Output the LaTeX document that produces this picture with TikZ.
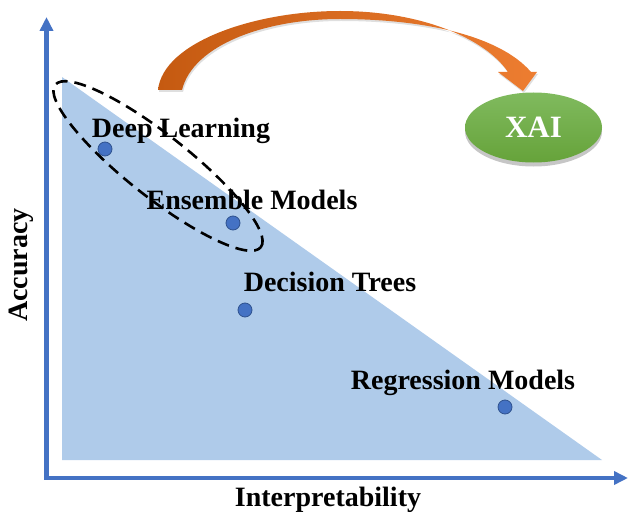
\documentclass[tikz,border=0pt]{standalone}
\usepackage{fontspec}
\setmainfont{Liberation Serif}
\usetikzlibrary{arrows.meta,shapes.geometric,shadows}
\definecolor{axisblue}{HTML}{4472C4}
\definecolor{areablue}{HTML}{AFCBEA}
\definecolor{dotblue}{HTML}{4472C4}
\definecolor{dotedge}{HTML}{2F528F}
\definecolor{orDark}{HTML}{C55A11}
\definecolor{orLight}{HTML}{F8D9C4}
\definecolor{orMid}{HTML}{ED7D31}
\definecolor{gTop}{HTML}{80BA5E}
\definecolor{gBot}{HTML}{66A33A}
\begin{document}
\begin{tikzpicture}[x=1pt,y=-1pt,
  axis/.style={draw=axisblue,line width=4.5pt,line join=miter,
    {Triangle[width=13pt,length=14pt]}-{Triangle[width=13pt,length=14pt]}},
  dot/.style={circle,fill=dotblue,draw=dotedge,line width=0.8pt,minimum size=14pt,inner sep=0pt},
  lbl/.style={font=\fontsize{28}{32}\selectfont\bfseries,inner sep=0pt},
  ring/.style={draw=black,line width=2.6pt,dash pattern=on 12pt off 7pt},
  xai/.style={ellipse,minimum width=137pt,minimum height=70pt,inner sep=0pt,
    top color=gTop,bottom color=gBot,
    drop shadow={opacity=0.45,shadow xshift=0pt,shadow yshift=-4pt},
    font=\fontsize{31}{34}\selectfont\bfseries,text=white}]
\useasboundingbox (0,0) rectangle (628,513);

% axes
\coordinate (ytip) at (46.5,17);
\coordinate (corner) at (46.5,478);
\coordinate (xtip) at (628,478);
\path[axis] (ytip) -- (corner) -- (xtip);

% triangle area
\fill[areablue] (62,77) -- (62,460) -- (602,460) -- cycle;

% dashed ring
\draw[ring,rotate around={-38.3:(158,166)}] (158,166) ellipse [x radius=131pt, y radius=31pt];

% dots
\node[dot] (d1) at (105,149) {};
\node[dot] (d2) at (233,223) {};
\node[dot] (d3) at (245,310) {};
\node[dot] (d4) at (505,407) {};

% labels
\node[lbl] (l1) at (181,131) {Deep Learning};
\node[lbl] (l2) at (252,200) {Ensemble Models};
\node[lbl] (l3) at (330,282) {Decision Trees};
\node[lbl] (l4) at (463,383) {Regression Models};
\node[lbl,rotate=90] (ay) at (21,265) {Accuracy};
\node[lbl] (ax) at (328,500) {Interpretability};

% XAI
\node[xai] (x) at (533.5,127.5) {XAI};

% curved arrow
\path[left color=orDark,middle color=orLight,right color=orMid,
      drop shadow={opacity=0.25,shadow xshift=1pt,shadow yshift=-2pt}]
  (158,90) .. controls (163,42) and (255,11) .. (340,11)
  .. controls (420,11) and (485,38) .. (508,72)
  -- (498,72) -- (523,91) -- (537,72) -- (531,72)
  .. controls (500,36) and (425,19) .. (340,19)
  .. controls (265,19) and (193,45) .. (182,90) -- cycle;
\end{tikzpicture}
\end{document}
